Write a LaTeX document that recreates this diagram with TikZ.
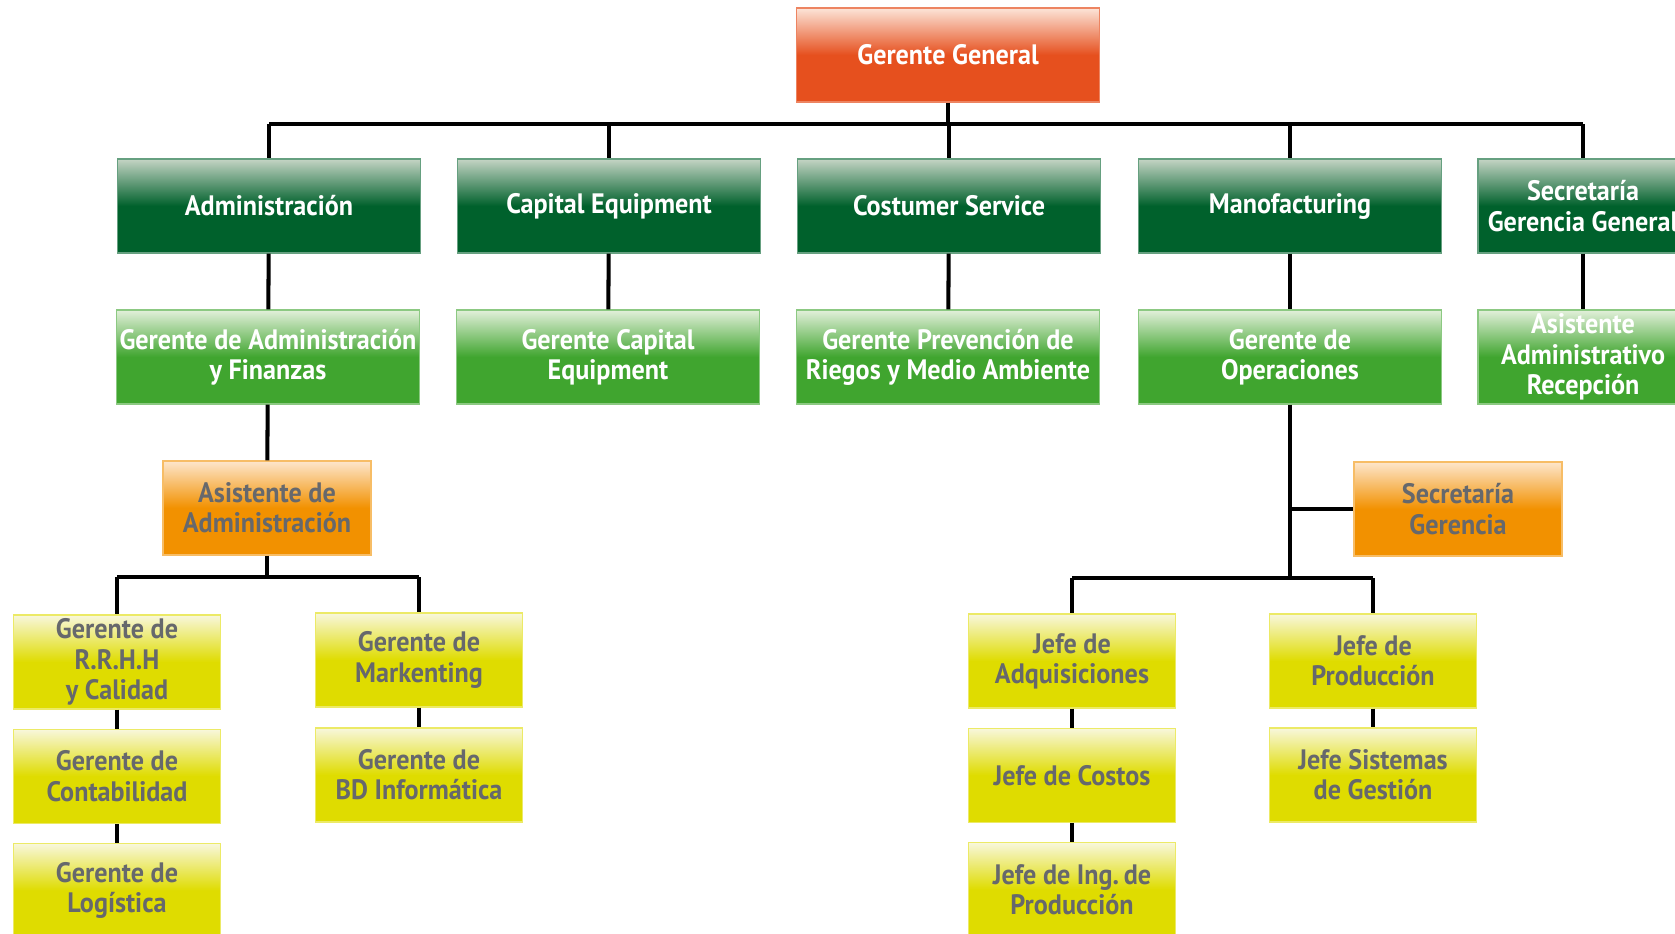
\documentclass[tikz,border=0pt]{standalone}
\usepackage{fontspec}
\setmainfont{PT Sans}[FakeStretch=0.93]
\usetikzlibrary{positioning}

\definecolor{ggtop}{HTML}{FCE4D8}
\definecolor{ggbot}{HTML}{E6501E}
\definecolor{dgtop}{HTML}{C4D4C4}
\definecolor{dgbot}{HTML}{00612C}
\definecolor{lgtop}{HTML}{E2F0DA}
\definecolor{lgbot}{HTML}{40A52F}
\definecolor{ortop}{HTML}{FDE6CC}
\definecolor{orbot}{HTML}{F29100}
\definecolor{yetop}{HTML}{F8F7DC}
\definecolor{yebot}{HTML}{DFDC00}
\definecolor{txtgray}{HTML}{66686C}

\tikzset{
  box/.style={rectangle, align=center, inner sep=0pt, line width=0.7pt,
    font=\fontsize{16}{17.2}\selectfont\bfseries},
  general/.style={box, minimum width=6.06cm, minimum height=1.88cm,
    top color=ggtop, bottom color=ggbot, middle color=ggbot, draw=ggbot!70!white, text=white},
  area/.style={box, minimum width=6.06cm, minimum height=1.88cm,
    top color=dgtop, bottom color=dgbot, middle color=dgbot, draw=dgbot!60!white, text=white},
  gerente/.style={box, minimum width=6.06cm, minimum height=1.88cm,
    top color=lgtop, bottom color=lgbot, middle color=lgbot, draw=lgbot!60!white, text=white},
  asistente/.style={box, minimum width=4.16cm, minimum height=1.88cm,
    top color=ortop, bottom color=orbot, middle color=orbot, draw=orbot!60!white, text=txtgray},
  jefe/.style={box, minimum width=4.14cm, minimum height=1.88cm,
    top color=yetop, bottom color=yebot, middle color=yebot, draw=yebot!60!white, text=txtgray},
  conn/.style={line width=2.3pt, black}
}

\begin{document}
\begin{tikzpicture}[x=0.02cm, y=-0.02cm]
\useasboundingbox (0,0) rectangle (1675,933);
\clip (0,0) rectangle (1675,933);

% top
\node[general] (gg) at (948,55) {Gerente General};

% areas
\node[area] (adm) at (269,206) {Administración};
\node[area] (capeq) at (609,206) {Capital Equipment};
\node[area] (costser) at (949,206) {Costumer Service};
\node[area] (manuf) at (1290,206) {Manofacturing};
\node[area, minimum width=4.2cm] (secgg) at (1583,206) {Secretaría\\Gerencia General};

% gerentes
\node[gerente] (geradm) at (268,357) {Gerente de Administración\\y Finanzas};
\node[gerente] (gercap) at (608,357) {Gerente Capital\\Equipment};
\node[gerente] (gerprev) at (948,357) {Gerente Prevención de\\Riegos y Medio Ambiente};
\node[gerente] (gerop) at (1290,357) {Gerente de\\Operaciones};
\node[gerente, minimum width=4.2cm] (asisrec) at (1583,357) {Asistente\\Administrativo\\Recepción};

% asistentes
\node[asistente] (asisadm) at (267,508) {Asistente de\\Administración};
\node[asistente] (secger) at (1458,509) {Secretaría\\Gerencia};

% administracion
\node[jefe] (rrhh) at (117,662) {Gerente de\\R.R.H.H\\y Calidad};
\node[jefe, below=0.38cm of rrhh] (conta) {Gerente de\\Contabilidad};
\node[jefe, below=0.38cm of conta] (logis) {Gerente de\\Logística};
\node[jefe] (mkt) at (419,660) {Gerente de\\Markenting};
\node[jefe] (bdinf) at (419,775) {Gerente de\\BD Informática};

% operaciones
\node[jefe] (adq) at (1072,661) {Jefe de\\Adquisiciones};
\node[jefe, below=0.38cm of adq] (costos) {Jefe de Costos};
\node[jefe, below=0.38cm of costos] (ingprod) {Jefe de Ing.\,de\\Producción};
\node[jefe] (prod) at (1373,661) {Jefe de\\Producción};
\node[jefe] (sisges) at (1373,775) {Jefe Sistemas\\de Gestión};

% bus lines
\coordinate (busA) at (0,124);
\coordinate (busB) at (0,577);
\coordinate (busC) at (0,578);

\draw[conn] (gg) -- (gg |- busA);
\draw[conn] (adm |- busA) -- (secgg |- busA);
\foreach \n/\m in {adm/geradm, capeq/gercap, costser/gerprev, manuf/gerop, secgg/asisrec} {
  \draw[conn] (\n |- busA) -- (\n);
  \draw[conn] (\n) -- (\m);
}

% administracion branch
\draw[conn] (geradm) -- (asisadm);
\draw[conn] (asisadm) -- (asisadm |- busB);
\draw[conn] (rrhh |- busB) -- (mkt |- busB);
\draw[conn] (rrhh |- busB) -- (rrhh);
\draw[conn] (mkt |- busB) -- (mkt);
\draw[conn] (rrhh) -- (conta);
\draw[conn] (conta) -- (logis);
\draw[conn] (mkt) -- (bdinf);

% operaciones branch
\draw[conn] (gerop) -- (gerop |- busC);
\draw[conn] (gerop |- secger) -- (secger);
\draw[conn] (adq |- busC) -- (prod |- busC);
\draw[conn] (adq |- busC) -- (adq);
\draw[conn] (prod |- busC) -- (prod);
\draw[conn] (adq) -- (costos);
\draw[conn] (costos) -- (ingprod);
\draw[conn] (prod) -- (sisges);

\end{tikzpicture}
\end{document}
